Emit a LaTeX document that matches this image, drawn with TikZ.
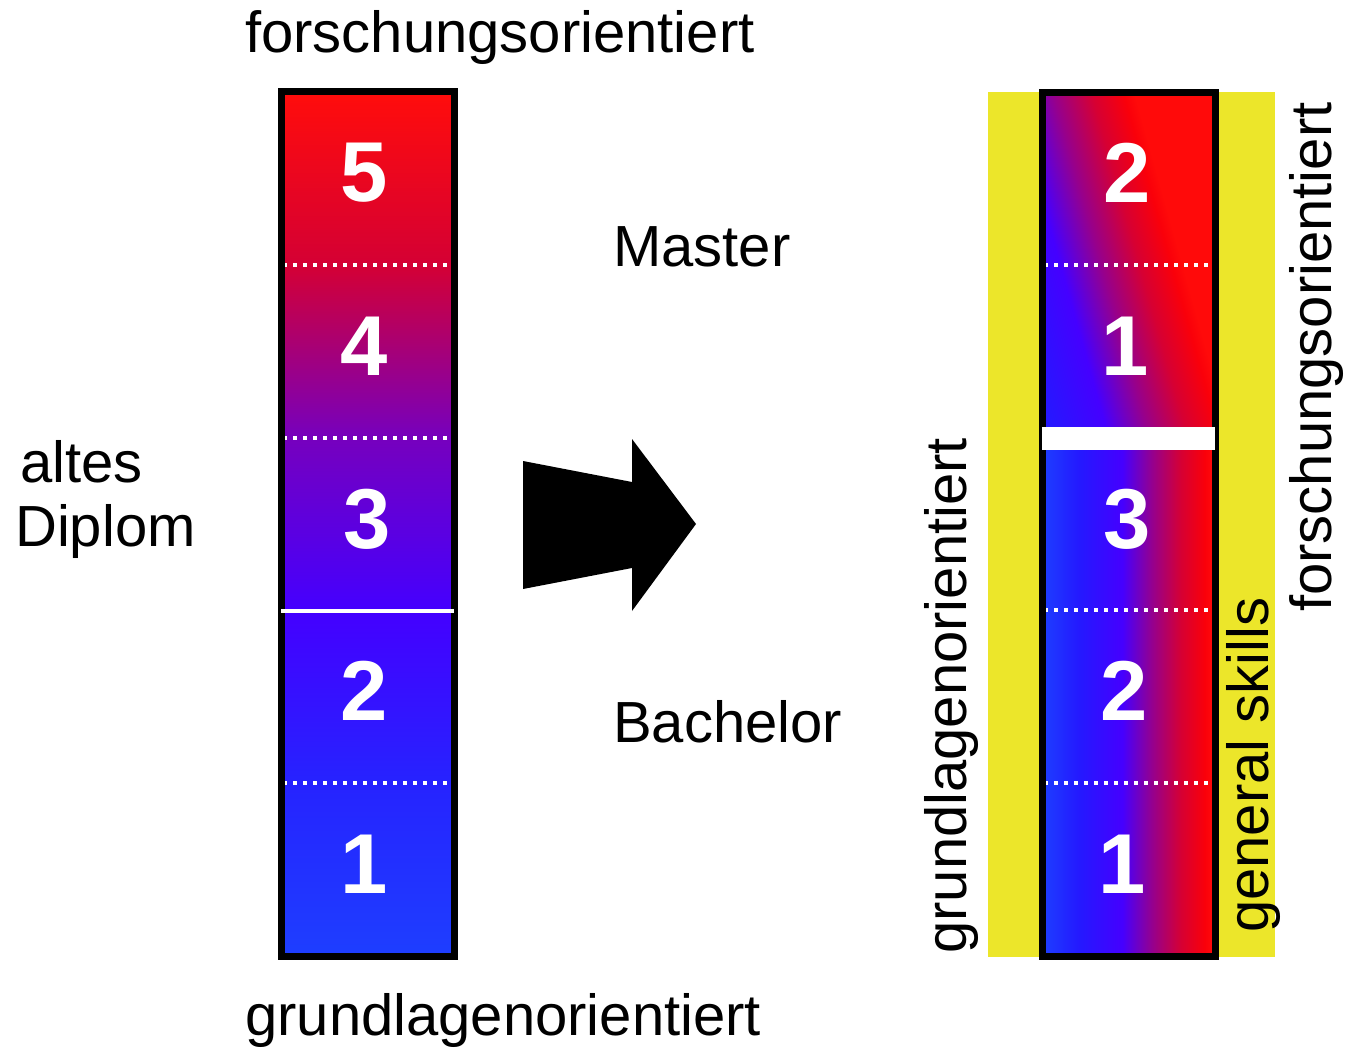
\documentclass[tikz,border=0pt]{standalone}
\usepackage{fontspec}
\setmainfont{Liberation Sans}
\definecolor{ca}{RGB}{255,12,12}
\definecolor{cb}{RGB}{212,0,52}
\definecolor{cc}{RGB}{118,0,190}
\definecolor{cd}{RGB}{68,0,255}
\definecolor{ce}{RGB}{38,35,255}
\definecolor{cf}{RGB}{30,62,255}
\definecolor{skillyellow}{RGB}{236,230,42}
\pgfdeclarehorizontalshading{rbar}{100bp}{rgb(0bp)=(0.118,0.235,1); rgb(25bp)=(0.118,0.235,1); rgb(35bp)=(0.14,0.1,1); rgb(48bp)=(0.27,0,1); rgb(57bp)=(0.59,0,0.55); rgb(65.5bp)=(0.84,0,0.2); rgb(72.5bp)=(0.98,0,0.04); rgb(75bp)=(1,0.04,0.04); rgb(100bp)=(1,0.04,0.04)}
\pgfdeclarehorizontalshading{rbarwide}{100bp}{rgb(0bp)=(0.118,0.235,1); rgb(25bp)=(0.118,0.235,1); rgb(31bp)=(0.14,0.1,1); rgb(38.8bp)=(0.27,0,1); rgb(44.2bp)=(0.59,0,0.55); rgb(49.3bp)=(0.84,0,0.2); rgb(53.5bp)=(0.98,0,0.04); rgb(55bp)=(1,0.04,0.04); rgb(100bp)=(1,0.04,0.04)}
\tikzset{
  lbl/.style={inner sep=0pt, anchor=base west, font=\fontsize{58}{60}\selectfont},
  num/.style={inner sep=0pt, anchor=base, text=white, font=\fontsize{85}{85}\selectfont\bfseries},
  dotline/.style={white, line width=4pt, dash pattern=on 4pt off 6pt},
  frame/.style={black, line width=7pt},
}
\begin{document}
\begin{tikzpicture}[x=1pt,y=-1pt]
\useasboundingbox (0,0) rectangle (1346,1056);
% ---------- left bar ----------
\shade[top color=ca, bottom color=cb] (281,95) rectangle (454,265);
\shade[top color=cb, bottom color=cc] (281,265) rectangle (454,438);
\shade[top color=cc, bottom color=cd] (281,438) rectangle (454,611);
\shade[top color=cd, bottom color=ce] (281,611) rectangle (454,783);
\shade[top color=ce, bottom color=cf] (281,783) rectangle (454,954);
\foreach \yy in {265,438,783} \draw[dotline] (283,\yy) -- (454,\yy);
\draw[frame] (281,91.5) rectangle (454.5,956.5);
\draw[white, line width=3.5pt] (281,611) -- (454,611);
\node[num] (l5) at (364,202) {5};
\node[num] (l4) at (364,375) {4};
\node[num] (l3) at (367,548) {3};
\node[num] (l2) at (364,720) {2};
\node[num] (l1) at (364,893) {1};
% ---------- arrow ----------
\fill[black] (523,461) -- (632,482) -- (632,439) -- (696,524) -- (632,611) -- (632,568) -- (523,589) -- cycle;
% ---------- right bar ----------
\fill[skillyellow] (988,92) rectangle (1039,957);
\fill[skillyellow] (1219,92) rectangle (1275,957);
\shade[shading=rbar] (1045,438) rectangle (1213,954);
\begin{scope}
  \clip (1045,94) rectangle (1213,439);
  \begin{scope}[transform canvas={xslant=-0.28}]
    \shade[shading=rbarwide] (881.4,90) rectangle (1260,440);
  \end{scope}
\end{scope}
\foreach \yy in {265,610,783} \draw[dotline] (1044,\yy) -- (1214,\yy);
\draw[frame] (1042.5,92.5) rectangle (1215.5,956.5);
\fill[white] (1042,427) rectangle (1215,450);
\node[num] (r2a) at (1127,203) {2};
\node[num] (r1a) at (1125,375) {1};
\node[num] (r3) at (1127,548) {3};
\node[num] (r2b) at (1124,720) {2};
\node[num] (r1b) at (1122,893) {1};
% ---------- labels ----------
\node[lbl] (top) at (245,53) {forschungsorientiert};
\node[lbl] (bottom) at (245,1035) {grundlagenorientiert};
\node[lbl] (master) at (613,267) {Master};
\node[lbl] (bachelor) at (613,742) {Bachelor};
\node[lbl] (altes) at (20,482) {altes};
\node[lbl] (diplom) at (15,546) {Diplom};
\node[lbl, rotate=90] (rgrund) at (966,954) {grundlagenorientiert};
\node[lbl, rotate=90] (rskills) at (1268,933) {general skills};
\node[lbl, rotate=90] (rforsch) at (1331,612) {forschungsorientiert};
\end{tikzpicture}
\end{document}
